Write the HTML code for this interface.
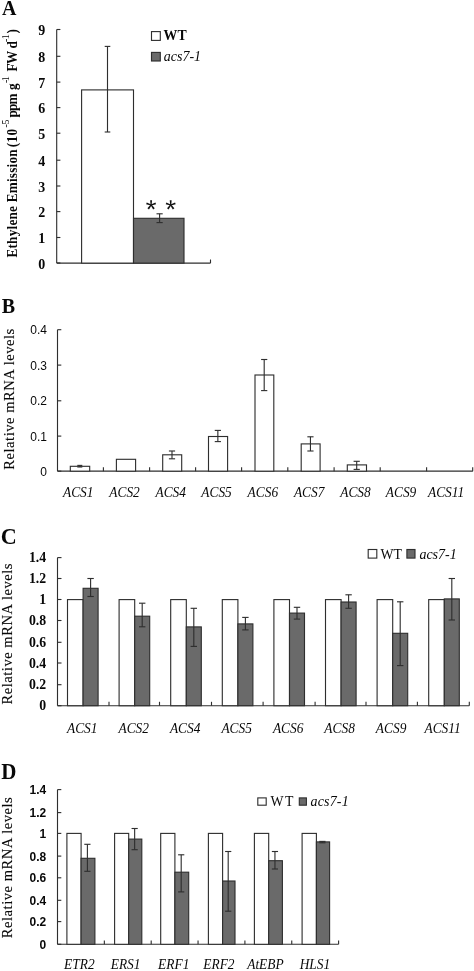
<!DOCTYPE html>
<html>
<head>
<meta charset="utf-8">
<title>Figure</title>
<style>
html, body { margin: 0; padding: 0; background: #ffffff; }
body { width: 474px; height: 971px; overflow: hidden; font-family: "Liberation Serif", serif; }
svg { display: block; transform: translateZ(0); will-change: transform; }
.ln line, .ln rect { stroke: #2e2e2e; stroke-width: 1.12; }
text { fill: #080808; font-family: "Liberation Serif", serif; }
.lab { font-size: 20px; font-weight: bold; }
.sb13 { font-size: 13.8px; font-weight: bold; }
.sb13t { font-size: 13.2px; font-weight: bold; }
.sb14 { font-size: 14px; font-weight: bold; }
.sup { font-size: 10px; }
.sr13 { font-size: 13.8px; }
.sr14 { font-size: 14.6px; stroke: #080808; stroke-width: 0.12px; }
.si13 { font-size: 14px; font-style: italic; }
.si13l { font-size: 13.4px; font-style: italic; }
.ss12 { font-size: 12px; font-family: "Liberation Sans", sans-serif; }
.sbs12 { font-size: 12px; font-weight: bold; font-family: "Liberation Sans", sans-serif; }
</style>
</head>
<body>
<svg width="474" height="971" viewBox="0 0 474 971">
<rect x="0" y="0" width="474" height="971" fill="#ffffff"/>
<g class="ln">
<line x1="56.70" y1="29.50" x2="56.70" y2="263.10"/>
<line x1="56.70" y1="263.10" x2="210.50" y2="263.10"/>
<line x1="210.50" y1="263.10" x2="210.50" y2="259.50"/>
<line x1="56.70" y1="263.00" x2="60.40" y2="263.00"/>
<line x1="56.70" y1="237.50" x2="60.40" y2="237.50"/>
<line x1="56.70" y1="211.60" x2="60.40" y2="211.60"/>
<line x1="56.70" y1="186.00" x2="60.40" y2="186.00"/>
<line x1="56.70" y1="160.20" x2="60.40" y2="160.20"/>
<line x1="56.70" y1="133.20" x2="60.40" y2="133.20"/>
<line x1="56.70" y1="107.60" x2="60.40" y2="107.60"/>
<line x1="56.70" y1="82.10" x2="60.40" y2="82.10"/>
<line x1="56.70" y1="56.30" x2="60.40" y2="56.30"/>
<line x1="56.70" y1="29.50" x2="60.40" y2="29.50"/>
<rect x="81.60" y="89.90" width="51.90" height="173.20" fill="#fff"/>
<rect x="133.50" y="218.30" width="50.50" height="44.80" fill="#6a6a6a"/>
<line x1="107.50" y1="46.40" x2="107.50" y2="132.00"/>
<line x1="104.70" y1="46.40" x2="110.30" y2="46.40"/>
<line x1="104.70" y1="132.00" x2="110.30" y2="132.00"/>
<line x1="159.60" y1="213.80" x2="159.60" y2="222.60"/>
<line x1="156.50" y1="213.80" x2="162.70" y2="213.80"/>
<line x1="156.50" y1="222.60" x2="162.70" y2="222.60"/>
</g>
<text transform="translate(45.30,268.50) scale(1,1.07)" class="sb14" text-anchor="end">0</text>
<text transform="translate(45.30,243.00) scale(1,1.07)" class="sb14" text-anchor="end">1</text>
<text transform="translate(45.30,217.10) scale(1,1.07)" class="sb14" text-anchor="end">2</text>
<text transform="translate(45.30,191.50) scale(1,1.07)" class="sb14" text-anchor="end">3</text>
<text transform="translate(45.30,165.70) scale(1,1.07)" class="sb14" text-anchor="end">4</text>
<text transform="translate(45.30,138.70) scale(1,1.07)" class="sb14" text-anchor="end">5</text>
<text transform="translate(45.30,113.10) scale(1,1.07)" class="sb14" text-anchor="end">6</text>
<text transform="translate(45.30,87.60) scale(1,1.07)" class="sb14" text-anchor="end">7</text>
<text transform="translate(45.30,61.80) scale(1,1.07)" class="sb14" text-anchor="end">8</text>
<text transform="translate(45.30,35.00) scale(1,1.07)" class="sb14" text-anchor="end">9</text>
<text transform="translate(2.10,14.90) scale(1,1.085)" class="lab">A</text>
<g class="ln">
<rect x="151.50" y="31.60" width="8.80" height="8.80" fill="#fff"/>
<rect x="151.50" y="52.40" width="8.80" height="8.60" fill="#6a6a6a"/>
</g>
<text transform="translate(163.60,40.30) scale(1,1.08)" class="sb13">WT</text>
<text transform="translate(163.80,61.00) scale(1,1.1)" class="si13">acs7-1</text>
<polygon points="151.65,204.90 152.05,200.25 150.15,200.25 150.55,204.90" fill="#111"/>
<polygon points="151.27,205.42 156.05,204.29 155.47,202.48 150.93,204.38" fill="#111"/>
<polygon points="150.66,205.22 153.21,209.42 154.75,208.31 151.54,204.58" fill="#111"/>
<polygon points="150.66,204.58 147.45,208.31 148.99,209.42 151.54,205.22" fill="#111"/>
<polygon points="151.27,204.38 146.73,202.48 146.15,204.29 150.93,205.42" fill="#111"/>
<polygon points="171.25,204.90 171.65,200.25 169.75,200.25 170.15,204.90" fill="#111"/>
<polygon points="170.87,205.42 175.65,204.29 175.07,202.48 170.53,204.38" fill="#111"/>
<polygon points="170.26,205.22 172.81,209.42 174.35,208.31 171.14,204.58" fill="#111"/>
<polygon points="170.26,204.58 167.05,208.31 168.59,209.42 171.14,205.22" fill="#111"/>
<polygon points="170.87,204.38 166.33,202.48 165.75,204.29 170.53,205.42" fill="#111"/>
<text transform="translate(16.90,257.60) rotate(-90) scale(1,1.08)" class="sb13t" textLength="108.3" lengthAdjust="spacing">Ethylene Emission</text>
<text transform="translate(16.90,147.20) rotate(-90) scale(1,1.08)" class="sb13t" textLength="18.2" lengthAdjust="spacing">(10</text>
<text transform="translate(9.00,127.60) rotate(-90) scale(1,1.0)" class="sup" textLength="8.2" lengthAdjust="spacing">-5</text>
<text transform="translate(16.90,117.40) rotate(-90) scale(1,1.08)" class="sb13t" textLength="23.8" lengthAdjust="spacing">ppm</text>
<text transform="translate(16.90,90.00) rotate(-90) scale(1,1.08)" class="sb13t">g</text>
<text transform="translate(9.00,83.00) rotate(-90) scale(1,1.0)" class="sup" textLength="6.8" lengthAdjust="spacing">-1</text>
<text transform="translate(16.90,71.40) rotate(-90) scale(1,1.08)" class="sb13t" textLength="20.6" lengthAdjust="spacing">FW</text>
<text transform="translate(16.90,48.60) rotate(-90) scale(1,1.08)" class="sb13t">d</text>
<text transform="translate(9.00,41.90) rotate(-90) scale(1,1.0)" class="sup" textLength="7.6" lengthAdjust="spacing">-1</text>
<text transform="translate(16.90,33.50) rotate(-90) scale(1,1.08)" class="sb13t">)</text>
<g class="ln">
<line x1="57.50" y1="329.70" x2="57.50" y2="471.15"/>
<line x1="57.50" y1="471.15" x2="472.80" y2="471.15"/>
<line x1="103.40" y1="471.15" x2="103.40" y2="467.25"/>
<line x1="149.60" y1="471.15" x2="149.60" y2="467.25"/>
<line x1="195.60" y1="471.15" x2="195.60" y2="467.25"/>
<line x1="241.60" y1="471.15" x2="241.60" y2="467.25"/>
<line x1="287.80" y1="471.15" x2="287.80" y2="467.25"/>
<line x1="334.10" y1="471.15" x2="334.10" y2="467.25"/>
<line x1="380.20" y1="471.15" x2="380.20" y2="467.25"/>
<line x1="426.60" y1="471.15" x2="426.60" y2="467.25"/>
<line x1="472.70" y1="471.15" x2="472.70" y2="467.25"/>
<line x1="57.50" y1="471.15" x2="61.30" y2="471.15"/>
<line x1="57.50" y1="436.10" x2="61.30" y2="436.10"/>
<line x1="57.50" y1="400.80" x2="61.30" y2="400.80"/>
<line x1="57.50" y1="365.10" x2="61.30" y2="365.10"/>
<line x1="57.50" y1="329.70" x2="61.30" y2="329.70"/>
<rect x="70.30" y="466.30" width="19.40" height="4.85" fill="#fff"/>
<line x1="79.80" y1="465.40" x2="79.80" y2="467.00"/>
<line x1="77.30" y1="465.40" x2="82.30" y2="465.40"/>
<line x1="77.30" y1="467.00" x2="82.30" y2="467.00"/>
<rect x="116.40" y="459.30" width="19.20" height="11.85" fill="#fff"/>
<rect x="162.70" y="454.80" width="19.00" height="16.35" fill="#fff"/>
<line x1="172.00" y1="451.00" x2="172.00" y2="458.80"/>
<line x1="168.90" y1="451.00" x2="175.10" y2="451.00"/>
<line x1="168.90" y1="458.80" x2="175.10" y2="458.80"/>
<rect x="208.50" y="436.50" width="19.10" height="34.65" fill="#fff"/>
<line x1="217.85" y1="430.40" x2="217.85" y2="441.60"/>
<line x1="214.75" y1="430.40" x2="220.95" y2="430.40"/>
<line x1="214.75" y1="441.60" x2="220.95" y2="441.60"/>
<rect x="255.00" y="375.00" width="18.80" height="96.15" fill="#fff"/>
<line x1="264.20" y1="359.50" x2="264.20" y2="390.60"/>
<line x1="261.10" y1="359.50" x2="267.30" y2="359.50"/>
<line x1="261.10" y1="390.60" x2="267.30" y2="390.60"/>
<rect x="301.20" y="443.90" width="18.90" height="27.25" fill="#fff"/>
<line x1="310.45" y1="436.80" x2="310.45" y2="451.00"/>
<line x1="307.35" y1="436.80" x2="313.55" y2="436.80"/>
<line x1="307.35" y1="451.00" x2="313.55" y2="451.00"/>
<rect x="347.30" y="464.90" width="19.20" height="6.25" fill="#fff"/>
<line x1="356.70" y1="461.30" x2="356.70" y2="469.40"/>
<line x1="353.60" y1="461.30" x2="359.80" y2="461.30"/>
<line x1="353.60" y1="469.40" x2="359.80" y2="469.40"/>
</g>
<text transform="translate(46.90,475.55) scale(1,1.05)" class="ss12" text-anchor="end">0</text>
<text transform="translate(46.90,440.50) scale(1,1.05)" class="ss12" text-anchor="end">0.1</text>
<text transform="translate(46.90,405.20) scale(1,1.05)" class="ss12" text-anchor="end">0.2</text>
<text transform="translate(46.90,369.50) scale(1,1.05)" class="ss12" text-anchor="end">0.3</text>
<text transform="translate(46.90,334.10) scale(1,1.05)" class="ss12" text-anchor="end">0.4</text>
<text transform="translate(1.70,312.90) scale(1,1.085)" class="lab">B</text>
<text transform="translate(63.00,497.20) scale(1,1.14)" class="si13l">ACS1</text>
<text transform="translate(109.30,497.20) scale(1,1.14)" class="si13l">ACS2</text>
<text transform="translate(155.50,497.20) scale(1,1.14)" class="si13l">ACS4</text>
<text transform="translate(201.30,497.20) scale(1,1.14)" class="si13l">ACS5</text>
<text transform="translate(247.60,497.20) scale(1,1.14)" class="si13l">ACS6</text>
<text transform="translate(293.90,497.20) scale(1,1.14)" class="si13l">ACS7</text>
<text transform="translate(340.20,497.20) scale(1,1.14)" class="si13l">ACS8</text>
<text transform="translate(385.80,497.20) scale(1,1.14)" class="si13l">ACS9</text>
<text transform="translate(428.00,497.20) scale(1,1.14)" class="si13l">ACS11</text>
<text transform="translate(13.80,469.70) rotate(-90) scale(1,1.05)" class="sr14" textLength="141" lengthAdjust="spacing">Relative mRNA levels</text>
<g class="ln">
<line x1="57.50" y1="557.60" x2="57.50" y2="705.70"/>
<line x1="57.50" y1="705.70" x2="469.30" y2="705.70"/>
<line x1="109.00" y1="705.70" x2="109.00" y2="701.80"/>
<line x1="159.50" y1="705.70" x2="159.50" y2="701.80"/>
<line x1="211.50" y1="705.70" x2="211.50" y2="701.80"/>
<line x1="263.10" y1="705.70" x2="263.10" y2="701.80"/>
<line x1="315.10" y1="705.70" x2="315.10" y2="701.80"/>
<line x1="366.00" y1="705.70" x2="366.00" y2="701.80"/>
<line x1="417.40" y1="705.70" x2="417.40" y2="701.80"/>
<line x1="469.30" y1="705.70" x2="469.30" y2="701.80"/>
<line x1="57.50" y1="705.70" x2="61.50" y2="705.70"/>
<line x1="57.50" y1="684.70" x2="61.50" y2="684.70"/>
<line x1="57.50" y1="663.00" x2="61.50" y2="663.00"/>
<line x1="57.50" y1="642.30" x2="61.50" y2="642.30"/>
<line x1="57.50" y1="620.50" x2="61.50" y2="620.50"/>
<line x1="57.50" y1="599.50" x2="61.50" y2="599.50"/>
<line x1="57.50" y1="578.50" x2="61.50" y2="578.50"/>
<line x1="57.50" y1="557.60" x2="61.50" y2="557.60"/>
<rect x="67.50" y="599.60" width="15.60" height="106.10" fill="#fff"/>
<rect x="83.10" y="588.30" width="15.00" height="117.40" fill="#6a6a6a"/>
<line x1="90.60" y1="578.50" x2="90.60" y2="596.50"/>
<line x1="87.40" y1="578.50" x2="93.80" y2="578.50"/>
<line x1="87.40" y1="596.50" x2="93.80" y2="596.50"/>
<rect x="119.10" y="599.60" width="15.60" height="106.10" fill="#fff"/>
<rect x="134.70" y="616.20" width="15.00" height="89.50" fill="#6a6a6a"/>
<line x1="142.20" y1="603.20" x2="142.20" y2="626.80"/>
<line x1="139.00" y1="603.20" x2="145.40" y2="603.20"/>
<line x1="139.00" y1="626.80" x2="145.40" y2="626.80"/>
<rect x="170.70" y="599.60" width="15.60" height="106.10" fill="#fff"/>
<rect x="186.30" y="626.90" width="15.00" height="78.80" fill="#6a6a6a"/>
<line x1="193.80" y1="608.30" x2="193.80" y2="646.40"/>
<line x1="190.60" y1="608.30" x2="197.00" y2="608.30"/>
<line x1="190.60" y1="646.40" x2="197.00" y2="646.40"/>
<rect x="222.30" y="599.60" width="15.60" height="106.10" fill="#fff"/>
<rect x="237.90" y="623.90" width="15.00" height="81.80" fill="#6a6a6a"/>
<line x1="245.40" y1="617.40" x2="245.40" y2="629.90"/>
<line x1="242.20" y1="617.40" x2="248.60" y2="617.40"/>
<line x1="242.20" y1="629.90" x2="248.60" y2="629.90"/>
<rect x="273.90" y="599.60" width="15.60" height="106.10" fill="#fff"/>
<rect x="289.50" y="613.10" width="15.00" height="92.60" fill="#6a6a6a"/>
<line x1="297.00" y1="607.30" x2="297.00" y2="619.10"/>
<line x1="293.80" y1="607.30" x2="300.20" y2="607.30"/>
<line x1="293.80" y1="619.10" x2="300.20" y2="619.10"/>
<rect x="325.50" y="599.60" width="15.60" height="106.10" fill="#fff"/>
<rect x="341.10" y="602.00" width="15.00" height="103.70" fill="#6a6a6a"/>
<line x1="348.60" y1="594.80" x2="348.60" y2="608.30"/>
<line x1="345.40" y1="594.80" x2="351.80" y2="594.80"/>
<line x1="345.40" y1="608.30" x2="351.80" y2="608.30"/>
<rect x="377.10" y="599.60" width="15.60" height="106.10" fill="#fff"/>
<rect x="392.70" y="633.30" width="15.00" height="72.40" fill="#6a6a6a"/>
<line x1="400.20" y1="601.80" x2="400.20" y2="665.60"/>
<line x1="397.00" y1="601.80" x2="403.40" y2="601.80"/>
<line x1="397.00" y1="665.60" x2="403.40" y2="665.60"/>
<rect x="428.70" y="599.60" width="15.60" height="106.10" fill="#fff"/>
<rect x="444.30" y="598.90" width="15.00" height="106.80" fill="#6a6a6a"/>
<line x1="451.80" y1="578.50" x2="451.80" y2="620.00"/>
<line x1="448.60" y1="578.50" x2="455.00" y2="578.50"/>
<line x1="448.60" y1="620.00" x2="455.00" y2="620.00"/>
<rect x="368.20" y="549.50" width="8.60" height="8.60" fill="#fff"/>
<rect x="406.90" y="549.50" width="8.10" height="8.60" fill="#6a6a6a"/>
</g>
<text transform="translate(46.20,710.30) scale(1,1.08)" class="sb13" text-anchor="end">0</text>
<text transform="translate(46.20,689.30) scale(1,1.08)" class="sb13" text-anchor="end">0.2</text>
<text transform="translate(46.20,667.60) scale(1,1.08)" class="sb13" text-anchor="end">0.4</text>
<text transform="translate(46.20,646.90) scale(1,1.08)" class="sb13" text-anchor="end">0.6</text>
<text transform="translate(46.20,625.10) scale(1,1.08)" class="sb13" text-anchor="end">0.8</text>
<text transform="translate(46.20,604.10) scale(1,1.08)" class="sb13" text-anchor="end">1</text>
<text transform="translate(46.20,583.10) scale(1,1.08)" class="sb13" text-anchor="end">1.2</text>
<text transform="translate(46.20,562.20) scale(1,1.08)" class="sb13" text-anchor="end">1.4</text>
<text transform="translate(0.70,544.00) scale(1,1.085)" class="lab" style="font-size:22.2px">C</text>
<text transform="translate(380.60,559.00) scale(1,1.08)" class="sr13">WT</text>
<text transform="translate(419.40,559.00) scale(1,1.1)" class="si13">acs7-1</text>
<text transform="translate(82.24,732.90) scale(1,1.14)" class="si13l" text-anchor="middle">ACS1</text>
<text transform="translate(133.71,732.90) scale(1,1.14)" class="si13l" text-anchor="middle">ACS2</text>
<text transform="translate(185.19,732.90) scale(1,1.14)" class="si13l" text-anchor="middle">ACS4</text>
<text transform="translate(236.66,732.90) scale(1,1.14)" class="si13l" text-anchor="middle">ACS5</text>
<text transform="translate(288.14,732.90) scale(1,1.14)" class="si13l" text-anchor="middle">ACS6</text>
<text transform="translate(339.61,732.90) scale(1,1.14)" class="si13l" text-anchor="middle">ACS8</text>
<text transform="translate(391.09,732.90) scale(1,1.14)" class="si13l" text-anchor="middle">ACS9</text>
<text transform="translate(442.56,732.90) scale(1,1.14)" class="si13l" text-anchor="middle">ACS11</text>
<text transform="translate(12.30,704.50) rotate(-90) scale(1,1.05)" class="sr14" textLength="141" lengthAdjust="spacing">Relative mRNA levels</text>
<g class="ln">
<line x1="57.50" y1="789.60" x2="57.50" y2="944.30"/>
<line x1="57.50" y1="944.30" x2="338.60" y2="944.30"/>
<line x1="104.35" y1="944.30" x2="104.35" y2="940.50"/>
<line x1="151.20" y1="944.30" x2="151.20" y2="940.50"/>
<line x1="198.05" y1="944.30" x2="198.05" y2="940.50"/>
<line x1="244.90" y1="944.30" x2="244.90" y2="940.50"/>
<line x1="291.75" y1="944.30" x2="291.75" y2="940.50"/>
<line x1="338.60" y1="944.30" x2="338.60" y2="940.50"/>
<line x1="57.50" y1="944.30" x2="61.30" y2="944.30"/>
<line x1="57.50" y1="921.60" x2="61.30" y2="921.60"/>
<line x1="57.50" y1="900.30" x2="61.30" y2="900.30"/>
<line x1="57.50" y1="877.80" x2="61.30" y2="877.80"/>
<line x1="57.50" y1="856.10" x2="61.30" y2="856.10"/>
<line x1="57.50" y1="833.40" x2="61.30" y2="833.40"/>
<line x1="57.50" y1="812.60" x2="61.30" y2="812.60"/>
<line x1="57.50" y1="789.60" x2="61.30" y2="789.60"/>
<rect x="66.90" y="833.40" width="14.20" height="110.90" fill="#fff"/>
<rect x="81.10" y="858.30" width="13.80" height="86.00" fill="#6a6a6a"/>
<line x1="87.40" y1="844.30" x2="87.40" y2="871.30"/>
<line x1="84.30" y1="844.30" x2="90.50" y2="844.30"/>
<line x1="84.30" y1="871.30" x2="90.50" y2="871.30"/>
<rect x="114.60" y="833.40" width="14.10" height="110.90" fill="#fff"/>
<rect x="128.70" y="839.10" width="13.10" height="105.20" fill="#6a6a6a"/>
<line x1="134.65" y1="828.50" x2="134.65" y2="849.70"/>
<line x1="131.55" y1="828.50" x2="137.75" y2="828.50"/>
<line x1="131.55" y1="849.70" x2="137.75" y2="849.70"/>
<rect x="160.70" y="833.40" width="14.20" height="110.90" fill="#fff"/>
<rect x="174.90" y="872.20" width="13.80" height="72.10" fill="#6a6a6a"/>
<line x1="181.20" y1="854.80" x2="181.20" y2="891.90"/>
<line x1="178.10" y1="854.80" x2="184.30" y2="854.80"/>
<line x1="178.10" y1="891.90" x2="184.30" y2="891.90"/>
<rect x="208.40" y="833.40" width="14.20" height="110.90" fill="#fff"/>
<rect x="222.60" y="881.00" width="12.40" height="63.30" fill="#6a6a6a"/>
<line x1="228.20" y1="851.50" x2="228.20" y2="911.20"/>
<line x1="225.10" y1="851.50" x2="231.30" y2="851.50"/>
<line x1="225.10" y1="911.20" x2="231.30" y2="911.20"/>
<rect x="254.40" y="833.40" width="14.30" height="110.90" fill="#fff"/>
<rect x="268.70" y="860.70" width="13.70" height="83.60" fill="#6a6a6a"/>
<line x1="274.95" y1="851.50" x2="274.95" y2="869.00"/>
<line x1="271.85" y1="851.50" x2="278.05" y2="851.50"/>
<line x1="271.85" y1="869.00" x2="278.05" y2="869.00"/>
<rect x="302.10" y="833.40" width="14.30" height="110.90" fill="#fff"/>
<rect x="316.40" y="841.90" width="13.20" height="102.40" fill="#6a6a6a"/>
<line x1="322.40" y1="841.40" x2="322.40" y2="842.80"/>
<line x1="319.30" y1="841.40" x2="325.50" y2="841.40"/>
<line x1="319.30" y1="842.80" x2="325.50" y2="842.80"/>
<rect x="257.80" y="797.90" width="8.40" height="7.30" fill="#fff"/>
<rect x="299.30" y="797.90" width="7.10" height="7.30" fill="#6a6a6a"/>
</g>
<text transform="translate(46.20,948.70) scale(1,1.05)" class="sbs12" text-anchor="end">0</text>
<text transform="translate(46.20,926.00) scale(1,1.05)" class="sbs12" text-anchor="end">0.2</text>
<text transform="translate(46.20,904.70) scale(1,1.05)" class="sbs12" text-anchor="end">0.4</text>
<text transform="translate(46.20,882.20) scale(1,1.05)" class="sbs12" text-anchor="end">0.6</text>
<text transform="translate(46.20,860.50) scale(1,1.05)" class="sbs12" text-anchor="end">0.8</text>
<text transform="translate(46.20,837.80) scale(1,1.05)" class="sbs12" text-anchor="end">1</text>
<text transform="translate(46.20,817.00) scale(1,1.05)" class="sbs12" text-anchor="end">1.2</text>
<text transform="translate(46.20,794.00) scale(1,1.05)" class="sbs12" text-anchor="end">1.4</text>
<text transform="translate(1.30,778.90) scale(1,1.085)" class="lab" style="font-size:21px">D</text>
<text transform="translate(270.60,805.60) scale(1,1.08)" class="sr13" style="letter-spacing:1.4px">WT</text>
<text transform="translate(310.60,805.60) scale(1,1.1)" class="si13" style="letter-spacing:0.15px">acs7-1</text>
<text transform="translate(64.10,969.30) scale(1,1.09)" class="si13l">ETR2</text>
<text transform="translate(110.70,969.30) scale(1,1.09)" class="si13l">ERS1</text>
<text transform="translate(158.10,969.30) scale(1,1.09)" class="si13l">ERF1</text>
<text transform="translate(203.30,969.30) scale(1,1.09)" class="si13l">ERF2</text>
<text transform="translate(247.20,969.30) scale(1,1.09)" class="si13l">AtEBP</text>
<text transform="translate(299.70,969.30) scale(1,1.09)" class="si13l">HLS1</text>
<text transform="translate(12.40,938.20) rotate(-90) scale(1,1.05)" class="sr14" textLength="141" lengthAdjust="spacing">Relative mRNA levels</text>
</svg>
</body>
</html>
